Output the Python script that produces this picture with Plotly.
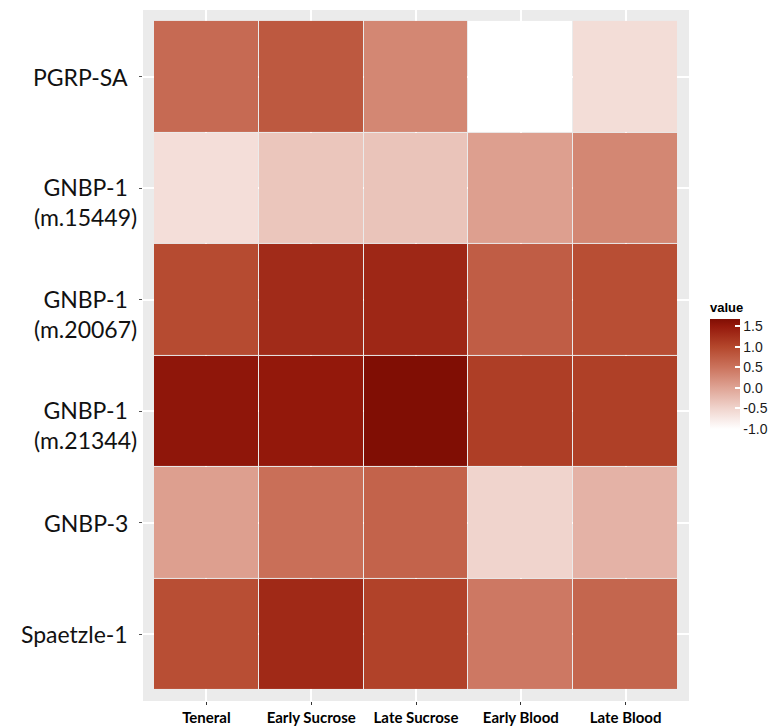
import plotly.graph_objects as go

# ---- data ----
conditions = ["Teneral", "Early Sucrose", "Late Sucrose", "Early Blood", "Late Blood"]
genes = ["PGRP-SA", "GNBP-1 (m.15449)", "GNBP-1 (m.20067)", "GNBP-1 (m.21344)", "GNBP-3", "Spaetzle-1"]
gene_labels = ["PGRP-SA", "GNBP-1<br>(m.15449)", "GNBP-1<br>(m.20067)", "GNBP-1<br>(m.21344)", "GNBP-3", "Spaetzle-1"]

pgrp_sa   = [0.60, 0.80, 0.30, -1.00, -0.60]
gnbp1_154 = [-0.62, -0.35, -0.33, 0.05, 0.30]
gnbp1_200 = [0.95, 1.30, 1.35, 0.75, 0.92]
gnbp1_213 = [1.55, 1.52, 1.68, 1.10, 1.08]
gnbp3     = [0.05, 0.55, 0.68, -0.50, -0.15]
spaetzle1 = [0.92, 1.33, 1.05, 0.45, 0.65]

values = [pgrp_sa, gnbp1_154, gnbp1_200, gnbp1_213, gnbp3, spaetzle1]

cb_ticks = [-1.0, -0.5, 0.0, 0.5, 1.0, 1.5]

# colour stops (value -> colour)
stop_vals = [-1.0, -0.5, 0.0, 0.5, 1.0, 1.5, 1.68]
stop_cols = ["#FFFFFF", "#F0D4CD", "#DFA495", "#CB735D", "#B4472C", "#95190C", "#800E04"]

zmin, zmax = -1.0, 1.68
colorscale = [[(v - zmin) / (zmax - zmin), c] for v, c in zip(stop_vals, stop_cols)]

W, H = 772, 727
L, T = 143, 10
PR, PB = 689, 701
R, B = W - PR, H - PB
pw = PR - L
ph = PB - T

def px_x(sx):
    return (sx - L) / pw

def px_y(sy):
    return 1 - (sy - T) / ph

fig = go.Figure()
fig.add_trace(go.Heatmap(
    z=values, x=conditions, y=genes,
    zmin=zmin, zmax=zmax, colorscale=colorscale,
    xgap=1, ygap=1,
    colorbar=dict(
        title=dict(text="value", side="top",
                   font=dict(family="Liberation Sans", size=13, color="#000000", weight="bold")),
        tickvals=cb_ticks, ticktext=[f"{t:.1f}" for t in cb_ticks],
        ticks="inside", ticklen=5, tickcolor="white", tickwidth=1.5,
        tickfont=dict(family="Liberation Sans", size=14, color="#1a1a1a"),
        thickness=30, thicknessmode="pixels",
        len=130 / ph, lenmode="fraction",
        x=px_x(710), xanchor="left",
        y=px_y(364), yanchor="middle",
        outlinewidth=0, ticklabelposition="outside", xpad=0, ypad=0,
    ),
))

# y labels as annotations (centred multi-line, first line level with the tick)
for g, lab in zip(genes, gene_labels):
    two = "<br>" in lab
    fig.add_annotation(
        x=px_x(139) if two else px_x(130), xref="paper", xanchor="right",
        y=g, yref="y", yanchor="middle", yshift=-14 if two else 0,
        text=lab, showarrow=False, align="center",
        font=dict(family="Lato", size=23, color="#111111"),
    )

fig.update_xaxes(
    range=[-0.605, 4.605], showgrid=True, gridcolor="white", gridwidth=1.5,
    ticks="outside", ticklen=3, tickcolor="#333333",
    tickfont=dict(family="Lato", size=15, color="#000000", weight="bold"),
    zeroline=False, fixedrange=True, automargin=False,
)
fig.update_yaxes(
    range=[5.598, -0.598], showgrid=True, gridcolor="white", gridwidth=1.5,
    ticks="outside", ticklen=3, tickcolor="#555555", showticklabels=False,
    zeroline=False, automargin=False,
)

fig.update_layout(
    width=W, height=H,
    margin=dict(l=L, r=R, t=T, b=B, pad=0, autoexpand=False),
    plot_bgcolor="#EBEBEB", paper_bgcolor="white",
    showlegend=False,
)

fig.write_html(
    "out.html",
    config={"displayModeBar": False},
    post_script="document.body.style.margin='0px';document.body.style.overflow='hidden';",
)
